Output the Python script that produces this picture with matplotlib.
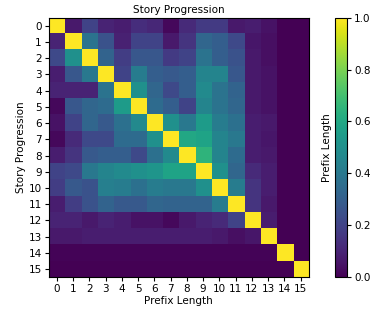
import numpy as np
import matplotlib
matplotlib.use("Agg")
import matplotlib.pyplot as plt

labels = [str(i) for i in range(16)]

row00 = [1.00, 0.07, 0.20, 0.10, 0.08, 0.13, 0.11, 0.02, 0.12, 0.17, 0.17, 0.07, 0.08, 0.05, 0.00, 0.00]
row01 = [0.10, 1.00, 0.38, 0.25, 0.09, 0.20, 0.20, 0.07, 0.15, 0.33, 0.30, 0.22, 0.06, 0.04, 0.00, 0.00]
row02 = [0.22, 0.50, 1.00, 0.32, 0.18, 0.27, 0.27, 0.17, 0.20, 0.38, 0.30, 0.25, 0.07, 0.04, 0.00, 0.00]
row03 = [0.08, 0.27, 0.40, 1.00, 0.20, 0.42, 0.30, 0.28, 0.30, 0.45, 0.45, 0.27, 0.07, 0.05, 0.00, 0.00]
row04 = [0.10, 0.10, 0.10, 0.38, 1.00, 0.50, 0.33, 0.22, 0.30, 0.48, 0.38, 0.32, 0.07, 0.05, 0.00, 0.00]
row05 = [0.02, 0.27, 0.33, 0.35, 0.55, 1.00, 0.35, 0.30, 0.20, 0.45, 0.38, 0.33, 0.07, 0.05, 0.00, 0.00]
row06 = [0.05, 0.20, 0.33, 0.28, 0.37, 0.47, 1.00, 0.50, 0.40, 0.55, 0.42, 0.37, 0.08, 0.07, 0.00, 0.00]
row07 = [0.02, 0.12, 0.22, 0.22, 0.35, 0.35, 0.50, 1.00, 0.60, 0.58, 0.45, 0.40, 0.08, 0.06, 0.00, 0.00]
row08 = [0.08, 0.15, 0.28, 0.30, 0.30, 0.22, 0.37, 0.48, 1.00, 0.65, 0.45, 0.35, 0.08, 0.07, 0.00, 0.00]
row09 = [0.20, 0.22, 0.40, 0.45, 0.48, 0.50, 0.52, 0.58, 0.58, 1.00, 0.50, 0.33, 0.12, 0.08, 0.00, 0.00]
row10 = [0.18, 0.28, 0.25, 0.43, 0.42, 0.37, 0.42, 0.40, 0.40, 0.50, 1.00, 0.42, 0.15, 0.08, 0.00, 0.00]
row11 = [0.08, 0.18, 0.25, 0.32, 0.28, 0.28, 0.33, 0.32, 0.32, 0.32, 0.42, 1.00, 0.15, 0.07, 0.00, 0.00]
row12 = [0.10, 0.10, 0.07, 0.10, 0.08, 0.05, 0.05, 0.02, 0.07, 0.10, 0.12, 0.20, 1.00, 0.08, 0.00, 0.00]
row13 = [0.07, 0.07, 0.08, 0.08, 0.08, 0.08, 0.08, 0.08, 0.08, 0.08, 0.07, 0.04, 0.06, 1.00, 0.00, 0.00]
row14 = [0.01, 0.01, 0.01, 0.01, 0.01, 0.01, 0.01, 0.01, 0.01, 0.01, 0.01, 0.01, 0.01, 0.01, 1.00, 0.00]
row15 = [0.00, 0.00, 0.00, 0.00, 0.00, 0.00, 0.00, 0.00, 0.00, 0.00, 0.00, 0.00, 0.00, 0.00, 0.00, 1.00]

data = np.array([row00, row01, row02, row03, row04, row05, row06, row07,
                 row08, row09, row10, row11, row12, row13, row14, row15])

fig = plt.figure(figsize=(3.78, 3.15), dpi=100)
ax = fig.add_axes([0.129, 0.12, 0.688, 0.824])
cax = fig.add_axes([0.886, 0.12, 0.032, 0.824])

im = ax.imshow(data, cmap="viridis", vmin=0, vmax=1, aspect="auto")
ax.set_xticks(range(16))
ax.set_yticks(range(16))
ax.set_xticklabels(labels, fontsize=7.5)
ax.set_yticklabels(labels, fontsize=7.5)
ax.tick_params(length=3, pad=2)
ax.set_xlabel("Prefix Length", fontsize=7.5, labelpad=1)
ax.set_ylabel("Story Progression", fontsize=7.5, labelpad=2)
ax.set_title("Story Progression", fontsize=7.5, pad=3)

cb = fig.colorbar(im, cax=cax)
cb.set_ticks([0.0, 0.2, 0.4, 0.6, 0.8, 1.0])
cb.ax.tick_params(labelsize=7.5, length=3, pad=2)
cb.ax.yaxis.set_label_position("left")
cb.set_label("Prefix Length", fontsize=7.5, labelpad=2)

fig.savefig("out.png", dpi=100)
